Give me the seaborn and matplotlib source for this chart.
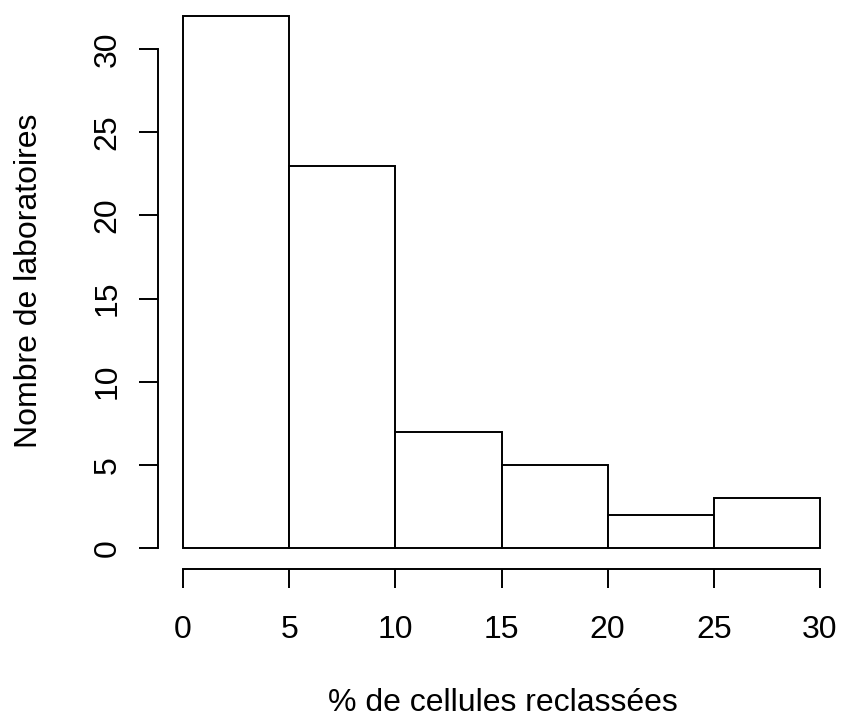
import matplotlib
matplotlib.use("Agg")
import matplotlib.pyplot as plt
import seaborn as sns
import pandas as pd

# Histogram data
bin_edges = [0, 5, 10, 15, 20, 25, 30]
counts = [32, 23, 7, 5, 2, 3]
x_ticks = [0, 5, 10, 15, 20, 25, 30]
y_ticks = [0, 5, 10, 15, 20, 25, 30]

df = pd.DataFrame({"pct": bin_edges[:-1], "n": counts})

sns.set_style("ticks")
plt.rcParams["font.family"] = ["Liberation Sans", "DejaVu Sans"]
plt.rcParams["text.color"] = "black"
plt.rcParams["axes.labelcolor"] = "black"

W, H = 841, 717
fig = plt.figure(figsize=(W / 100, H / 100), dpi=100)
# axes box in pixels: left 158, right 841, top 0, bottom 569
ax = fig.add_axes([158 / W, (H - 569) / H, (W - 158) / W, 569 / H])

sns.histplot(data=df, x="pct", weights="n", bins=bin_edges,
             color="white", edgecolor="black", linewidth=1.4, alpha=1, ax=ax)

ax.set_xlim(-25 / 21.233, 30 + 21 / 21.233)
ax.set_ylim(-21 / 16.63, 548 / 16.63)

ax.set_xticks(x_ticks)
ax.set_yticks(y_ticks)
ax.set_yticklabels([str(v) for v in y_ticks], rotation=90, va="center")
ax.tick_params(axis="both", direction="out", length=14, width=1.4,
               labelsize=23, color="black", labelcolor="black")
ax.tick_params(axis="x", pad=19)
ax.tick_params(axis="y", pad=11.5)

for s in ["top", "right"]:
    ax.spines[s].set_visible(False)
for s in ["left", "bottom"]:
    ax.spines[s].set_bounds(0, 30)
    ax.spines[s].set_linewidth(1.4)
    ax.spines[s].set_color("black")

ax.set_xlabel("% de cellules reclassées", fontsize=23, va="top", color="black")
ax.xaxis.set_label_coords(0.5044, -0.209)
ax.set_ylabel("Nombre de laboratoires", fontsize=23, color="black")
ax.yaxis.set_label_coords(-0.1669, 0.507)

fig.savefig("out.png", dpi=100)
